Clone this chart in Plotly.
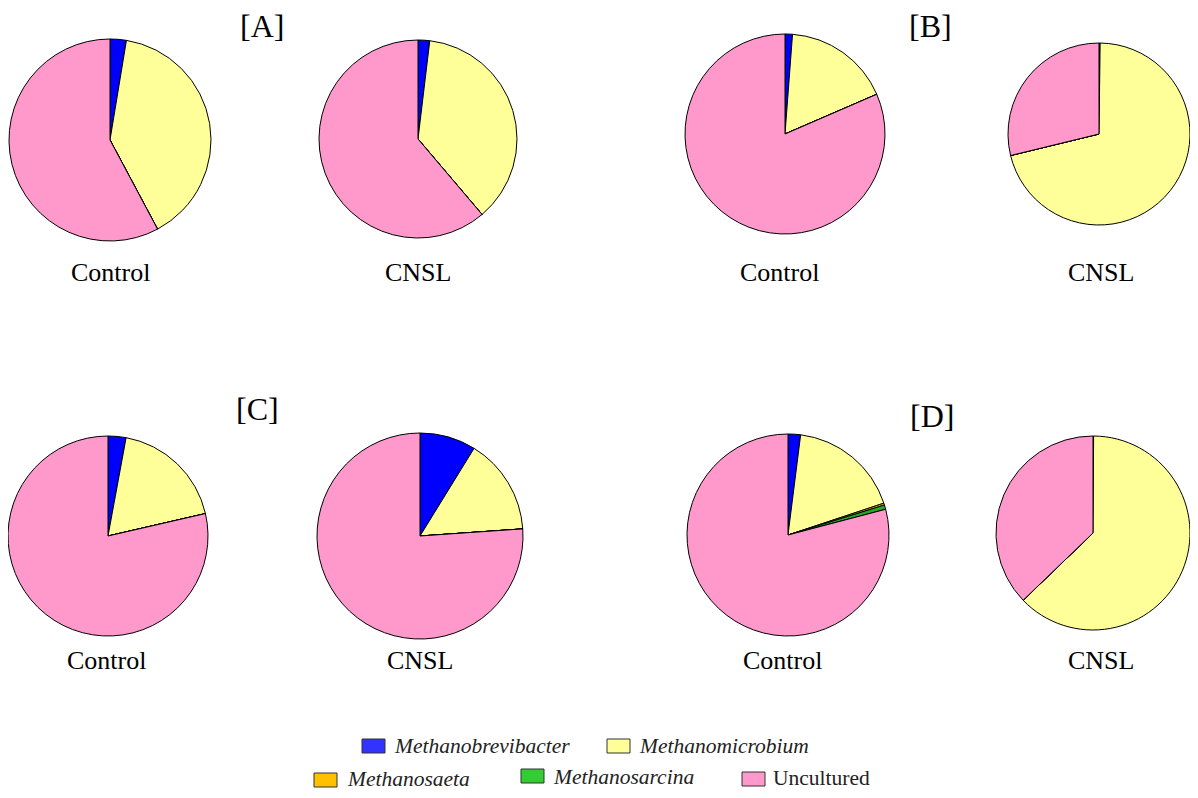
import plotly.graph_objects as go

W, H = 1198, 798
OFF = 8  # default page body margin
FW, FH = W - 2 * OFF, H - 2 * OFF

genera = ["Methanobrevibacter", "Methanomicrobium", "Methanosaeta", "Methanosarcina", "Uncultured"]
colors = ["#0000FF", "#FFFF99", "#FFC000", "#22AA22", "#FF99CC"]

# relative abundance (%) per sample, order as genera
a_control = [2.6, 39.6, 0.0, 0.0, 57.8]
a_cnsl = [1.9, 36.9, 0.0, 0.0, 61.2]
b_control = [1.2, 17.3, 0.0, 0.0, 81.5]
b_cnsl = [0.2, 71.0, 0.0, 0.0, 28.8]
c_control = [2.9, 18.5, 0.0, 0.0, 78.6]
c_cnsl = [8.8, 15.1, 0.0, 0.0, 76.1]
d_control = [2.0, 17.9, 0.3, 0.7, 79.1]
d_cnsl = [0.1, 62.7, 0.0, 0.0, 37.2]

samples = [a_control, a_cnsl, b_control, b_cnsl, c_control, c_cnsl, d_control, d_cnsl]
sample_labels = ["Control", "CNSL"] * 4
panel_labels = ["[A]", "[B]", "[C]", "[D]"]


def px(x):
    return min(max((x - OFF) / FW, 0.0), 1.0)


def py(y):
    return min(max(1 - (y - OFF) / FH, 0.0), 1.0)


# pie centres and radii in pixels (page coordinates)
geom = [(110, 140, 101), (418, 139, 99), (785, 134, 100), (1099, 134, 91),
        (108, 536, 100), (420, 536, 103), (788, 535, 101), (1093, 533, 97)]
label_pos = [(110, 272), (418, 272), (779, 272), (1101, 272),
             (106, 660), (420, 660), (782, 660), (1101, 660)]
panel_pos = [(262, 26), (930, 26), (257, 409), (932, 416)]

fig = go.Figure()
for vals, (cx, cy, r) in zip(samples, geom):
    fig.add_trace(go.Pie(
        labels=genera, values=vals, sort=False, direction="clockwise", rotation=0,
        marker=dict(colors=colors, line=dict(color="black", width=1)),
        textinfo="none", hoverinfo="label+percent", showlegend=False,
        domain=dict(x=[px(cx - r), px(cx + r)], y=[py(cy + r), py(cy - r)]),
    ))

ann = []
for lab, (x, y) in zip(sample_labels, label_pos):
    ann.append(dict(text=lab, x=px(x), y=py(y), xref="paper", yref="paper",
                    xanchor="center", yanchor="middle",
                    showarrow=False, font=dict(size=26, color="black", family="Liberation Serif")))
for lab, (x, y) in zip(panel_labels, panel_pos):
    ann.append(dict(text=lab, x=px(x), y=py(y), xref="paper", yref="paper",
                    xanchor="center", yanchor="middle",
                    showarrow=False, font=dict(size=32, color="black", family="Liberation Serif")))

# manual legend
legend_colors = ["#3333FF", "#FFFF99", "#FFC000", "#33CC33", "#FF99CC"]
legend_swatch = [(362, 746), (607, 746), (314, 780), (521, 776), (742, 779)]
legend_text_y = [746, 746, 779, 777, 778]
legend_text_dx = [30, 30, 31, 30, 29]
shapes = []
for g, c, (x, y), ty, dx in zip(genera, legend_colors, legend_swatch, legend_text_y, legend_text_dx):
    shapes.append(dict(type="rect", xref="paper", yref="paper",
                       x0=px(x), x1=px(x + 23), y0=py(y + 7), y1=py(y - 7),
                       fillcolor=c, line=dict(color="#333333", width=1)))
    ital = g != "Uncultured"
    ann.append(dict(text=f"<i>{g}</i>" if ital else g, x=px(x + dx), y=py(ty),
                    xref="paper", yref="paper", xanchor="left", yanchor="middle", showarrow=False,
                    font=dict(size=21.5, color="#222222", family="Liberation Serif")))

fig.update_layout(width=FW, height=FH, margin=dict(l=0, r=0, t=0, b=0),
                  paper_bgcolor="white", plot_bgcolor="white",
                  annotations=ann, shapes=shapes)
fig.write_html("out.html")
